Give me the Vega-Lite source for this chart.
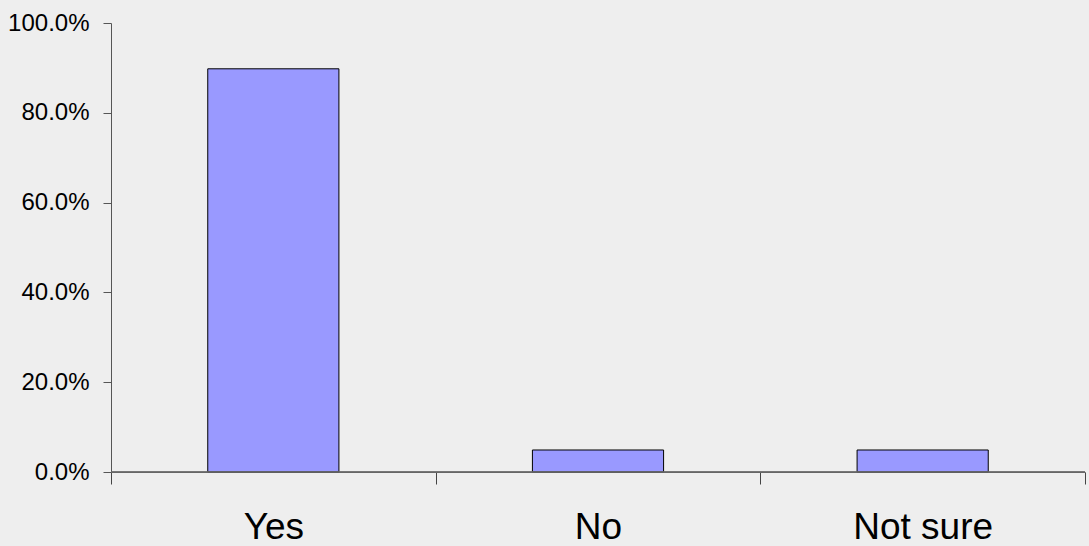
{
  "$schema": "https://vega.github.io/schema/vega-lite/v6.json",
  "autosize": "none",
  "width": 974,
  "height": 449,
  "padding": {"left": 111, "top": 23, "right": 4, "bottom": 74},
  "background": "#EEEEEE",
  "config": {
    "view": {"stroke": null},
    "font": "Liberation Sans"
  },
  "data": {
    "values": [
      {"answer": "Yes", "share": 0.898},
      {"answer": "No", "share": 0.049},
      {"answer": "Not sure", "share": 0.049}
    ]
  },
  "encoding": {
    "x": {
      "field": "answer",
      "type": "nominal",
      "sort": null,
      "scale": {"paddingInner": 0, "paddingOuter": 0},
      "axis": {
        "title": null,
        "labelAngle": 0,
        "labelFontSize": 37,
        "labelColor": "#000000",
        "labelPadding": 25,
        "tickBand": "extent",
        "tickSize": 12,
        "tickColor": "#444444",
        "domainColor": "#666666",
        "grid": false
      }
    },
    "y": {
      "field": "share",
      "type": "quantitative",
      "scale": {"domain": [0, 1], "nice": false},
      "axis": {
        "title": null,
        "values": [0, 0.2, 0.4, 0.6, 0.8, 1],
        "format": ".1%",
        "labelFontSize": 24,
        "labelColor": "#000000",
        "labelPadding": 14,
        "tickSize": 8,
        "tickColor": "#555555",
        "domainColor": "#555555",
        "grid": false
      }
    }
  },
  "layer": [
    {
      "mark": {
        "type": "bar",
        "color": "#9999FF",
        "stroke": "#000000",
        "strokeWidth": 1,
        "width": {"band": 0.404}
      }
    },
    {
      "mark": {"type": "rule", "color": "#666666", "strokeWidth": 1},
      "encoding": {
        "x": null,
        "y": {"datum": 0}
      }
    }
  ]
}
